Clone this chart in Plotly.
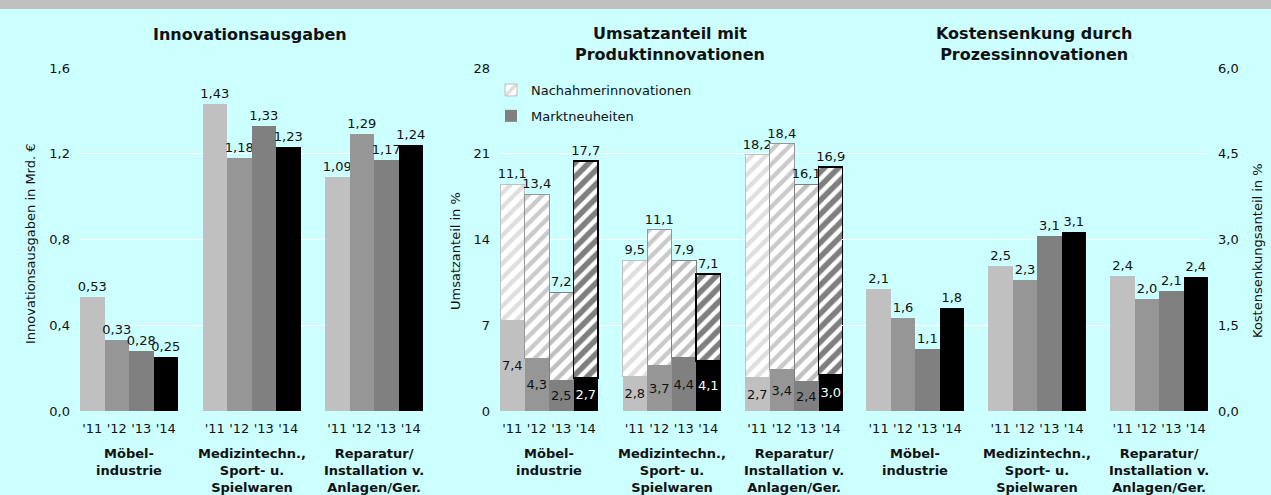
import plotly.graph_objects as go

W, H = 1271, 495

# ---- Daten ----
years = ["'11", "'12", "'13", "'14"]
groups = ["Möbel-<br>industrie", "Medizintechn.,<br>Sport- u.<br>Spielwaren",
          "Reparatur/<br>Installation v.<br>Anlagen/Ger."]
year_colors = ["#C0C0C0", "#969696", "#808080", "#000000"]

# Innovationsausgaben in Mrd. € -> [Jahr][Gruppe]
ausgaben = [
    [0.53, 1.43, 1.09],
    [0.33, 1.18, 1.29],
    [0.28, 1.33, 1.17],
    [0.25, 1.23, 1.24],
]
# Umsatzanteil in % (Marktneuheiten / Nachahmerinnovationen)
marktneuheiten = [
    [7.4, 2.8, 2.7],
    [4.3, 3.7, 3.4],
    [2.5, 4.4, 2.4],
    [2.7, 4.1, 3.0],
]
nachahmer = [
    [11.1, 9.5, 18.2],
    [13.4, 11.1, 18.4],
    [7.2, 7.9, 16.1],
    [17.7, 7.1, 16.9],
]
# Kostensenkungsanteil in %
kosten = [
    [2.14, 2.54, 2.37],
    [1.62, 2.30, 1.96],
    [1.09, 3.06, 2.10],
    [1.81, 3.14, 2.35],
]

titles = ["Innovationsausgaben", "Umsatzanteil mit<br>Produktinnovationen",
          "Kostensenkung durch<br>Prozessinnovationen"]
ytitles = ["Innovationsausgaben in Mrd. €", "Umsatzanteil in %", "Kostensenkungsanteil in %"]

FONT = "DejaVu Sans"
TXT = "#111111"
BG = "#CCFFFF"


def px_x(p):
    return p / W


def px_y(p):
    return (H - p) / H


def pos(i):
    # Position der Balken: 4 Jahre je Gruppe + 1 Lücke
    return [g * 5 + i for g in range(len(groups))]


label_font = dict(family=FONT, size=13, color=TXT)
fig = go.Figure()

# Panel 1
for i in range(4):
    fig.add_trace(go.Bar(
        x=pos(i), y=ausgaben[i], xaxis="x", yaxis="y", width=1,
        marker=dict(color=year_colors[i], line=dict(width=0)),
        texttemplate="%{y:.2f}", textposition="outside", textangle=0,
        constraintext="none", cliponaxis=False, textfont=label_font,
        showlegend=False, hoverinfo="skip"))

# Panel 2 (gestapelt)
for i in range(4):
    fig.add_trace(go.Bar(
        x=pos(i), y=marktneuheiten[i], xaxis="x2", yaxis="y2", width=1,
        name="Marktneuheiten",
        marker=dict(color=year_colors[i], line=dict(width=0)),
        texttemplate="%{y:.1f}", textposition="inside", insidetextanchor="middle",
        textangle=0, constraintext="none",
        textfont=dict(family=FONT, size=13, color="white" if i == 3 else TXT),
        showlegend=(i == 2), legendgroup="b", hoverinfo="skip"))
    fig.add_trace(go.Bar(
        x=pos(i), y=nachahmer[i], xaxis="x2", yaxis="y2", width=1,
        name="Nachahmerinnovationen",
        marker=dict(color="white", line=dict(color=year_colors[i], width=1.5 if i == 3 else 1),
                    pattern=dict(shape="/", fgcolor=year_colors[i], bgcolor="white",
                                 size=10, solidity=0.55 if i == 3 else 0.45)),
        texttemplate="%{y:.1f}", textposition="outside", textangle=0,
        constraintext="none", cliponaxis=False, textfont=label_font,
        showlegend=(i == 0), legendgroup="a", hoverinfo="skip"))

# Panel 3
for i in range(4):
    fig.add_trace(go.Bar(
        x=pos(i), y=kosten[i], xaxis="x3", yaxis="y3", width=1,
        marker=dict(color=year_colors[i], line=dict(width=0)),
        texttemplate="%{y:.1f}", textposition="outside", textangle=0,
        constraintext="none", cliponaxis=False, textfont=label_font,
        showlegend=False, hoverinfo="skip"))

tickvals = [p for g in range(3) for p in range(g * 5, g * 5 + 4)]
ticktext = years * 3
ydom = [px_y(411), px_y(68)]

xcommon = dict(tickvals=tickvals, ticktext=ticktext, showgrid=False, zeroline=False,
               showline=False, ticks="", ticklabelstandoff=8, automargin=False,
               tickfont=dict(family=FONT, size=13, color=TXT), fixedrange=True)
ycommon = dict(domain=ydom, showgrid=True, gridcolor="white", gridwidth=1, zeroline=False,
               showline=False, ticks="", ticklabelstandoff=9, automargin=False,
               tickfont=dict(family=FONT, size=13, color=TXT), fixedrange=True)

fig.update_layout(
    width=W, height=H,
    margin=dict(l=0, r=0, t=0, b=0, autoexpand=False),
    paper_bgcolor=BG, plot_bgcolor="rgba(0,0,0,0)",
    separators=",.",
    barmode="stack",
    font=dict(family=FONT, size=13, color=TXT),
    xaxis=dict(domain=[px_x(80), px_x(423)], range=[-0.5, 13.5], anchor="y", **xcommon),
    yaxis=dict(range=[0, 1.6], dtick=0.4, tickformat=".1f", anchor="x", **ycommon),
    xaxis2=dict(domain=[px_x(500), px_x(843)], range=[-0.5, 13.5], anchor="y2", **xcommon),
    yaxis2=dict(range=[0, 28], dtick=7, anchor="x2", **ycommon),
    xaxis3=dict(domain=[px_x(842), px_x(1208)], range=[-1.5, 13.5], anchor="y3", **xcommon),
    yaxis3=dict(range=[0, 6], dtick=1.5, tickformat=".1f", anchor="x3", side="right", **ycommon),
    legend=dict(x=px_x(491), y=px_y(75), xanchor="left", yanchor="top",
                bgcolor="rgba(0,0,0,0)", traceorder="grouped", tracegroupgap=6,
                itemwidth=30, font=dict(family=FONT, size=13, color=TXT)),
    showlegend=True,
)

# grauer Balken oben
fig.add_shape(type="rect", xref="paper", yref="paper", x0=0, x1=1, y0=px_y(9), y1=1,
              fillcolor="#C0C0C0", line=dict(width=0), layer="below")

# Titel
for txt, cx, cy in zip(titles, [250, 670, 1034], [34, 44, 44]):
    fig.add_annotation(text="<b>" + txt + "</b>", xref="paper", yref="paper",
                       x=px_x(cx), y=px_y(cy), xanchor="center", yanchor="middle",
                       showarrow=False, font=dict(family=FONT, size=16, color=TXT))

# Achsentitel
for txt, cx, cy in zip(ytitles, [31, 456, 1258], [244, 251, 251]):
    fig.add_annotation(text=txt, xref="paper", yref="paper", textangle=-90,
                       x=px_x(cx), y=px_y(cy), xanchor="center", yanchor="middle",
                       showarrow=False, font=dict(family=FONT, size=13, color=TXT))

# Gruppenbeschriftungen
for ax in ["x", "x2", "x3"]:
    for g, name in enumerate(groups):
        fig.add_annotation(text="<b>" + name + "</b>", xref=ax, yref="paper",
                           x=g * 5 + 1.5, y=px_y(444), xanchor="center", yanchor="top",
                           showarrow=False, font=dict(family=FONT, size=13, color=TXT))

fig.write_html("out.html", config={"displayModeBar": False},
               post_script="document.body.style.margin='0';")
